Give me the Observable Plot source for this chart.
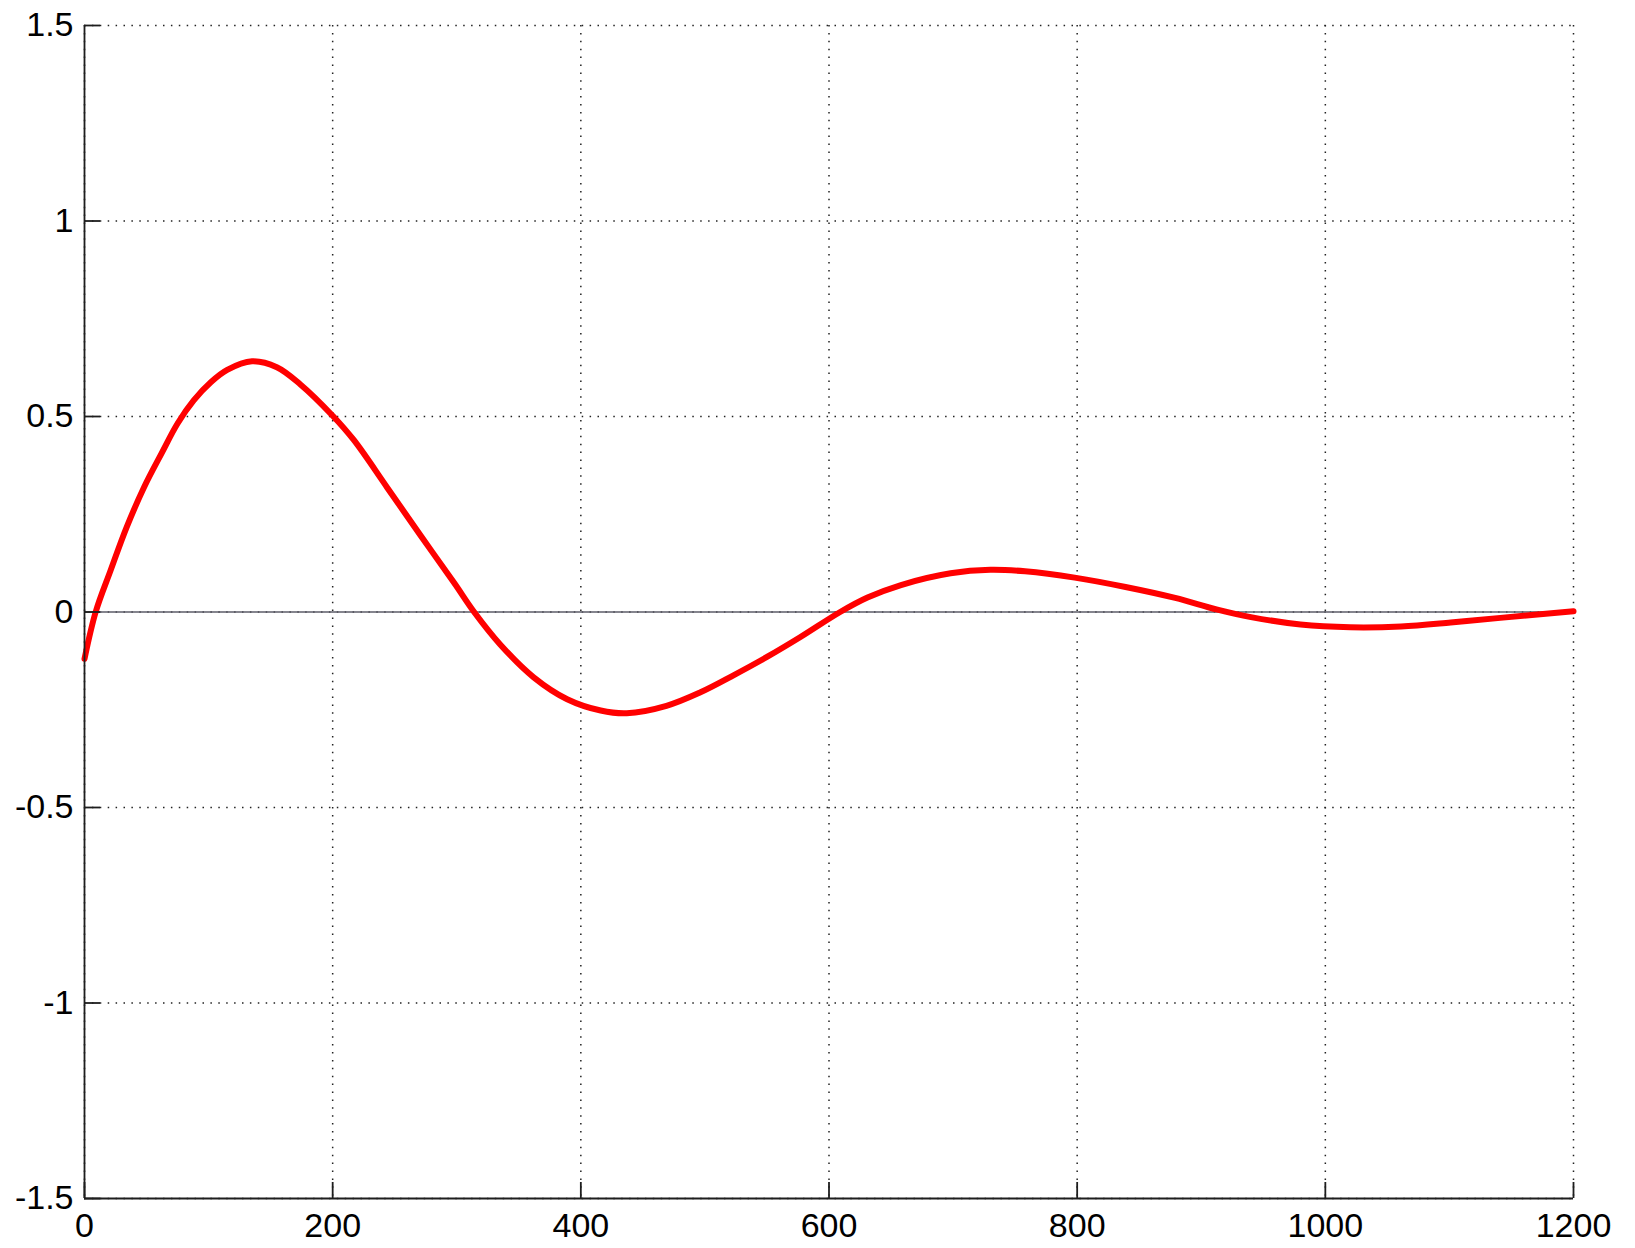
<!DOCTYPE html>
<html>
<head>
<meta charset="utf-8">
<script src="https://cdn.jsdelivr.net/npm/d3@7"></script>
<script src="https://cdn.jsdelivr.net/npm/@observablehq/plot@0.6"></script>
<style>
  html, body { margin: 0; padding: 0; background: #fff; }
  #chart svg { display: block; }
</style>
</head>
<body>
<div id="chart"></div>
<script>
// Series values
const xValues = [0, 9, 21, 34, 48, 62, 75, 88, 102, 115, 135, 155, 174, 200, 217, 244, 271, 298, 314,
  335, 362, 389, 416, 437, 469, 496, 523, 550, 577, 609, 631, 658, 698, 730, 758, 798, 839, 879,
  913, 940, 980, 1020, 1061, 1101, 1141, 1200];
const yValues = [-0.12, 0, 0.106, 0.217, 0.319, 0.405, 0.482, 0.541, 0.588, 0.619, 0.641, 0.626, 0.582,
  0.502, 0.44, 0.318, 0.195, 0.074, 0,
  -0.083, -0.167, -0.223, -0.252, -0.259, -0.24, -0.206, -0.162, -0.115, -0.064, 0, 0.037, 0.069,
  0.099, 0.108, 0.104, 0.088, 0.064, 0.036, 0.006, -0.013, -0.032, -0.039, -0.037, -0.027, -0.015, 0.002];

// Axis ticks and labels
const xTicks = [0, 200, 400, 600, 800, 1000, 1200];
const xTickLabels = ["0", "200", "400", "600", "800", "1000", "1200"];
const yTicks = [-1.5, -1, -0.5, 0, 0.5, 1, 1.5];
const yTickLabels = ["-1.5", "-1", "-0.5", "0", "0.5", "1", "1.5"];

const data = xValues.map((x, i) => ({x, y: yValues[i]}));

const W = 1635, H = 1248;
const mL = 84, mR = 62, mT = 25, mB = 50;
const plotW = W - mL - mR, plotH = H - mT - mB;
const tickLen = 16;
const axisColor = "#1e1e1e";
const gridStyle = {stroke: "#222", strokeOpacity: 1, strokeWidth: 1.5, strokeDasharray: "1.5,6.4"};

const chart = Plot.plot({
  width: W,
  height: H,
  marginLeft: mL,
  marginRight: mR,
  marginTop: mT,
  marginBottom: mB,
  style: {fontFamily: "'Liberation Sans', Arial, sans-serif", fontSize: "34px", color: "#000", background: "#fff"},
  x: {domain: [0, 1200]},
  y: {domain: [-1.5, 1.5]},
  marks: [
    Plot.gridX(xTicks, gridStyle),
    Plot.gridY(yTicks, gridStyle),
    Plot.ruleY([0], {stroke: "#5c5c68", strokeWidth: 1.5}),
    Plot.line(data, {x: "x", y: "y", stroke: "#f00", strokeWidth: 6, curve: "catmull-rom"}),
    Plot.ruleX([0], {stroke: axisColor, strokeWidth: 1.8}),
    Plot.ruleY([-1.5], {stroke: axisColor, strokeWidth: 1.8}),
    Plot.tickY(yTicks, {y: d => d, insetRight: plotW - tickLen, stroke: axisColor, strokeWidth: 1.8}),
    Plot.tickX(xTicks, {x: d => d, insetTop: plotH - tickLen, stroke: axisColor, strokeWidth: 1.8}),
    Plot.axisX(xTicks, {tickSize: 0, tickPadding: 14, fontSize: 34, label: null,
      tickFormat: d => xTickLabels[xTicks.indexOf(d)]}),
    Plot.axisY(yTicks, {tickSize: 0, tickPadding: 11, fontSize: 34, label: null,
      tickFormat: d => yTickLabels[yTicks.indexOf(d)]})
  ]
});
document.getElementById("chart").append(chart);
</script>
</body>
</html>
